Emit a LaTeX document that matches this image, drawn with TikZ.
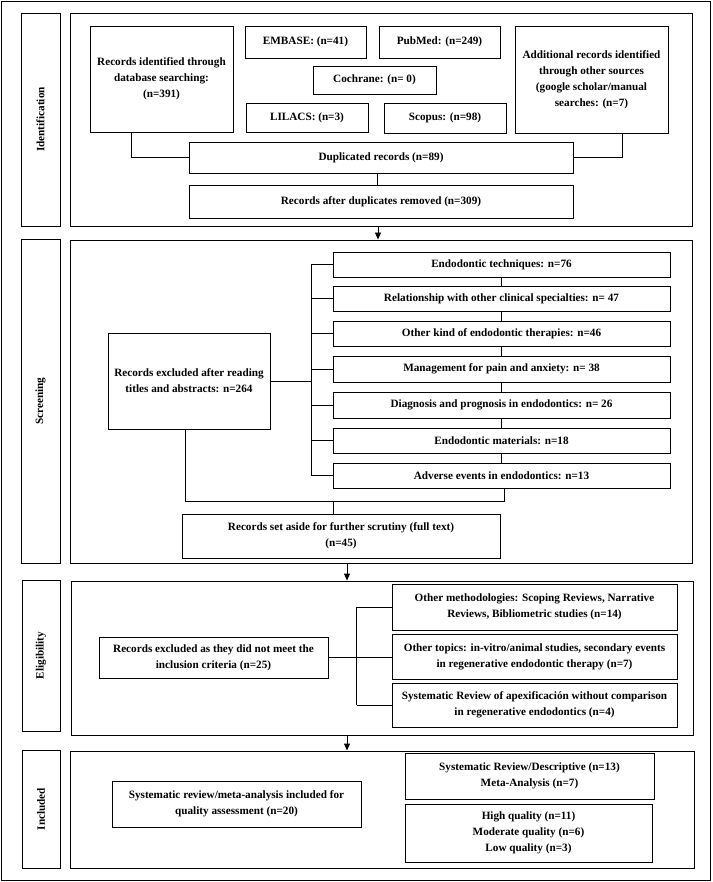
\documentclass[tikz,border=0pt]{standalone}
\usepackage{fontspec}
\setmainfont{Liberation Serif}
\usetikzlibrary{arrows.meta,calc}
\tikzset{
  box/.style={draw, line width=0.9pt, align=center, inner sep=0pt,
    font=\bfseries\fontsize{11.2}{16}\selectfont},
  ln/.style={line width=0.9pt},
  thin/.style={line width=0.5pt},
  arr/.style={line width=0.9pt, -{Triangle[width=6pt,length=7pt]}}
}
\newcommand{\bx}[6]{\node[box, minimum width={#4-#2}, minimum height={#5-#3}] (#1) at ({(#2+#4)/2},{(#3+#5)/2}) {#6};}
\newcommand{\lb}[6]{\node[box, rotate=90, minimum width={#5-#3}, minimum height={#4-#2}] (#1) at ({(#2+#4)/2},{(#3+#5)/2}) {#6};}
\begin{document}
\begin{tikzpicture}[x=1pt,y=-1pt]
\useasboundingbox (0,0) rectangle (712,882);
\node[draw, line width=0.9pt, minimum width=709pt, minimum height=879pt, inner sep=0pt] (frame) at (355.5,440.5) {};
% labels
\lb{labI}{21}{13}{60}{226}{Identification}
\lb{labS}{21}{239}{60}{563}{Screening}
\lb{labE}{22}{580}{60}{731}{Eligibility}
\lb{labN}{22}{750}{60}{868}{Included}
% sections
\bx{secI}{70}{13}{692}{226}{}
\bx{secS}{70}{240}{692}{563}{}
\bx{secE}{71}{581}{693}{735}{}
\bx{secN}{70}{751}{694}{868}{}
% identification
\bx{rid}{90}{26}{233}{132}{Records identified through\\database searching:\\(n=391)}
\bx{emb}{245}{26}{366}{58}{EMBASE: (n=41)}
\bx{pub}{379}{26}{500}{58}{PubMed: (n=249)}
\bx{coc}{313}{66}{436}{94}{Cochrane: (n= 0)}
\bx{lil}{246}{103}{368}{132}{LILACS: (n=3)}
\bx{sco}{384}{103}{506}{133}{Scopus: (n=98)}
\bx{add}{515}{26}{668}{133}{Additional records identified\\through other sources\\(google scholar/manual\\searches: (n=7)}
\bx{dup}{189}{142}{573}{173}{Duplicated records (n=89)}
\bx{aft}{189}{185}{573}{218}{Records after duplicates removed (n=309)}
\draw[ln] ($(rid.south west)!0.294!(rid.south east)$) |- (dup.west);
\draw[ln] ($(add.south west)!0.70!(add.south east)$) |- (dup.east);
\draw[thin] ([xshift=-4pt]dup.south) -- ([xshift=-4pt]aft.north);
\draw[arr] ([xshift=-3pt]secI.south) -- ([xshift=-3pt]secS.north);
% screening
\bx{rex}{108}{333}{270}{429}{Records excluded after reading\\titles and abstracts: n=264}
\bx{r1}{333}{252}{670}{277}{Endodontic techniques: n=76}
\bx{r2}{333}{286}{670}{311}{Relationship with other clinical specialties: n= 47}
\bx{r3}{333}{321}{670}{346}{Other kind of endodontic therapies: n=46}
\bx{r4}{333}{356}{670}{382}{Management for pain and anxiety: n= 38}
\bx{r5}{333}{392}{670}{418}{Diagnosis and prognosis in endodontics: n= 26}
\bx{r6}{333}{428}{670}{453}{Endodontic materials: n=18}
\bx{r7}{333}{463}{670}{488}{Adverse events in endodontics: n=13}
\bx{set}{182}{514}{500}{558}{Records set aside for further scrutiny (full text)\\(n=45)}
\coordinate (bS) at ([xshift=-21pt]r1.west);
\draw[ln] (bS) -- (bS |- r7.west);
\foreach \i in {1,...,7} \draw[ln] (r\i.west) -- (r\i.west -| bS);
\draw[ln] (rex.east) -- (rex.east -| bS);
\foreach \i/\j in {1/2,2/3,3/4,4/5,5/6,6/7} \draw[thin] (r\i.south) -- (r\j.north);
\coordinate (jS) at (333,501);
\draw[ln] ([xshift=-4pt]rex.south) |- ([xshift=3pt]r7.south |- jS) -- ([xshift=3pt]r7.south);
\draw[thin] (jS) -- (jS |- set.north);
\draw[arr] ([xshift=-34pt]secS.south) -- ([xshift=-34pt]secS.south |- secE.north);
% eligibility
\bx{eex}{99}{637}{328}{678}{Records excluded as they did not meet the\\inclusion criteria (n=25)}
\bx{e1}{392}{584}{677}{630}{Other methodologies: Scoping Reviews, Narrative\\Reviews, Bibliometric studies (n=14)}
\bx{e2}{392}{634}{677}{679}{Other topics: in-vitro/animal studies, secondary events\\in regenerative endodontic therapy (n=7)}
\bx{e3}{392}{683}{677}{727}{Systematic Review of apexificación without comparison\\in regenerative endodontics (n=4)}
\coordinate (bE) at ([xshift=-35pt]e1.west);
\draw[ln] (bE) -- (bE |- e3.west);
\draw[ln] (e1.west) -- (e1.west -| bE);
\draw[ln] (e3.west) -- (e3.west -| bE);
\draw[ln] (eex.east) -- (eex.east -| e2.west);
\draw[arr] ([xshift=-35pt]secE.south) -- ([xshift=-35pt]secE.south |- secN.north);
% included
\bx{inc}{112}{781}{361}{827}{Systematic review/meta-analysis included for\\quality assessment (n=20)}
\bx{n1}{405}{753}{654}{799}{Systematic Review/Descriptive (n=13)\\Meta-Analysis (n=7)}
\bx{n2}{405}{804}{652}{862}{High quality (n=11)\\Moderate quality (n=6)\\Low quality (n=3)}
\end{tikzpicture}
\end{document}
